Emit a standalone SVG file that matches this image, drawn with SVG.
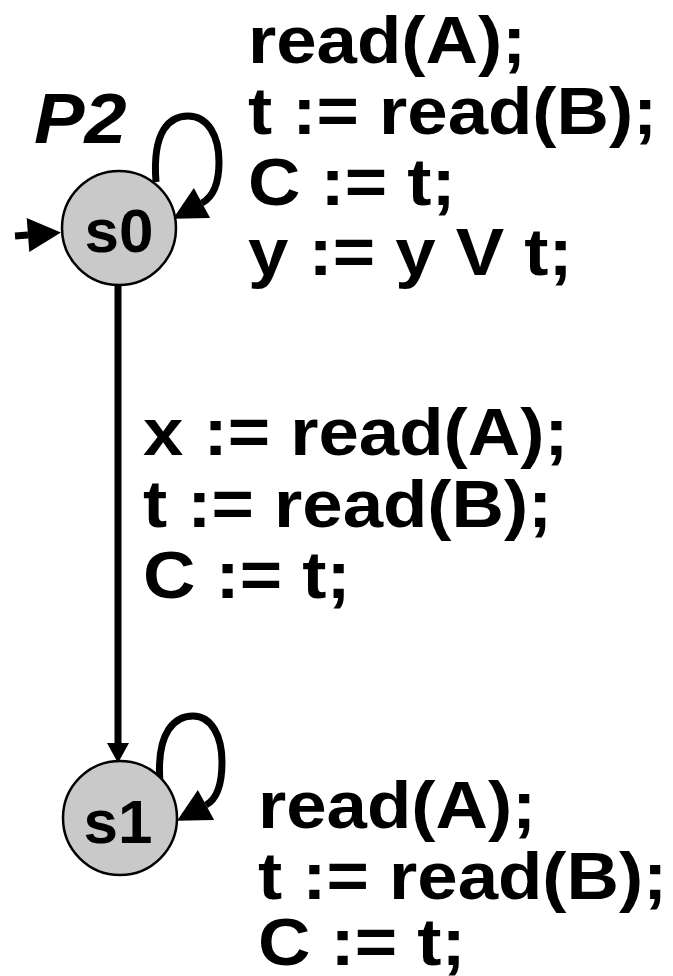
<svg xmlns="http://www.w3.org/2000/svg" width="673" height="976" viewBox="0 0 673 976">
<style>
.st{fill:#c9c9c9;stroke:#000;stroke-width:2.5}
.sl{font-family:"Liberation Sans",Arial,sans-serif;font-weight:bold;font-size:62px;text-anchor:middle;fill:#000}
.lb{font-family:"Liberation Sans",Arial,sans-serif;font-weight:bold;font-size:66px;fill:#000}
.ed{fill:none;stroke:#000;stroke-width:7}
</style>
<defs>
<marker id="ab" markerUnits="userSpaceOnUse" markerWidth="34" markerHeight="36" refX="0" refY="17" orient="auto" overflow="visible">
<path d="M0,0 L33,17 L0,34 z" fill="#000"/>
</marker>
<marker id="as" markerUnits="userSpaceOnUse" markerWidth="22" markerHeight="24" refX="0" refY="11" orient="auto" overflow="visible">
<path d="M0,0 L20,11 L0,22 z" fill="#000"/>
</marker>
</defs>
<g id="connectors">
<path class="ed" d="M15,236 L28,235" marker-end="url(#ab)"/>
<path class="ed" d="M156,182 C152,130 170,116 188,116 C208,116 219,136 219,162 C219,184 213,197 202,203" marker-end="url(#ab)"/>
<path class="ed" d="M118,285 L118,743" marker-end="url(#as)"/>
<path class="ed" d="M160,782 C156,730 176,716 193,716 C212,716 222,737 222,762 C222,785 217,799 206,805" marker-end="url(#ab)"/>
</g>
<g id="s0">
<circle class="st" cx="119" cy="228" r="57"/>
<text class="sl" x="119" y="252">s0</text>
</g>
<g id="s1">
<circle class="st" cx="120" cy="818" r="57"/>
<text class="sl" x="118" y="843">s1</text>
</g>
<g id="title">
<text x="0" y="143" transform="translate(34,0) scale(1.08,1)" font-family="Liberation Sans,Arial,sans-serif" font-weight="bold" font-style="italic" font-size="70">P2</text>
</g>
<g id="label-s0-loop" transform="translate(248,0) scale(1.1,1)">
<text class="lb" x="0" y="63">read(A);</text>
<text class="lb" x="0" y="134">t := read(B);</text>
<text class="lb" x="0" y="205">C := t;</text>
<text class="lb" x="0" y="275">y := y V t;</text>
</g>
<g id="label-s0-s1" transform="translate(143,0) scale(1.1,1)">
<text class="lb" x="0" y="455">x := read(A);</text>
<text class="lb" x="0" y="527">t := read(B);</text>
<text class="lb" x="0" y="598">C := t;</text>
</g>
<g id="label-s1-loop" transform="translate(258,0) scale(1.1,1)">
<text class="lb" x="0" y="828">read(A);</text>
<text class="lb" x="0" y="899">t := read(B);</text>
<text class="lb" x="0" y="965">C := t;</text>
</g>
</svg>
